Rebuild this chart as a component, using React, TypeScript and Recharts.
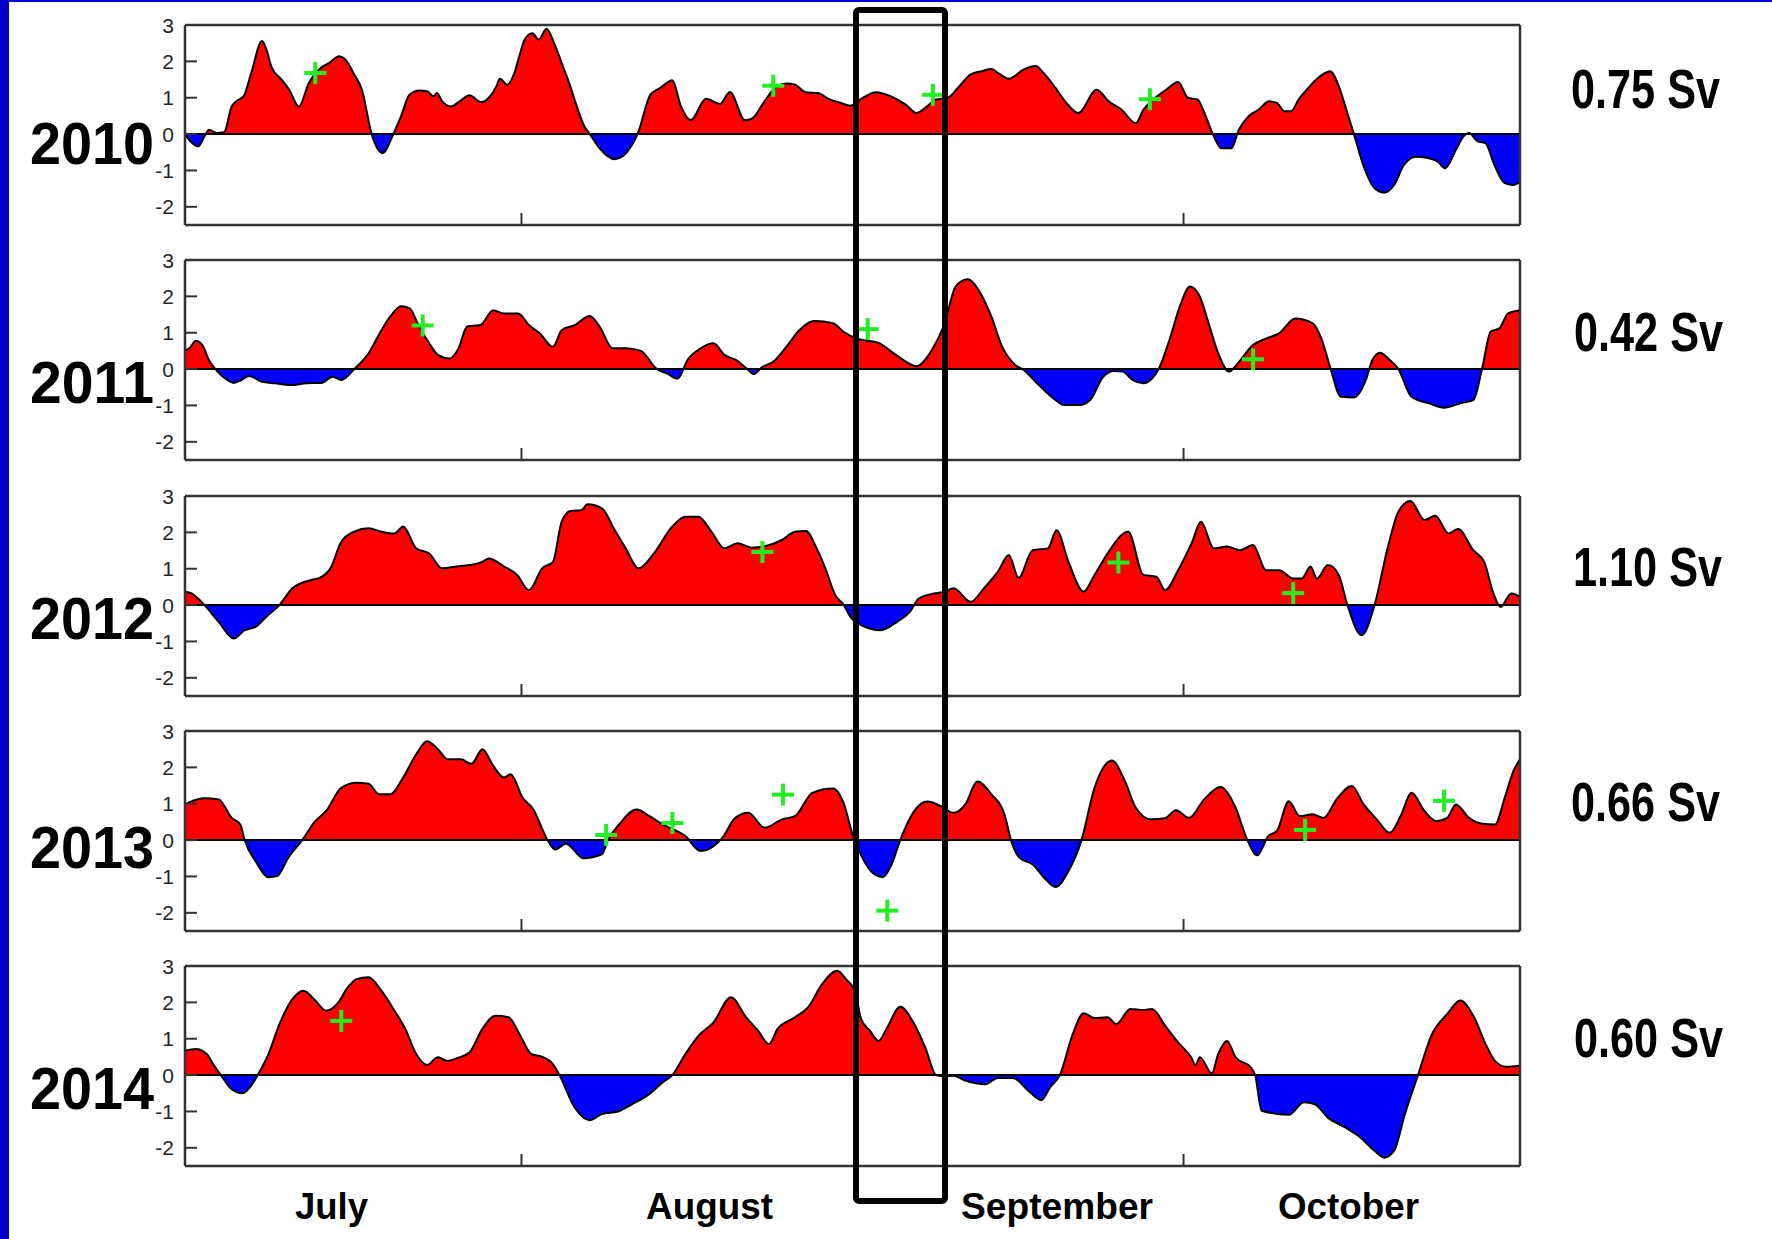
import { ComposedChart, Area, Scatter, XAxis, YAxis, ReferenceLine } from 'recharts';

// x = days since 1 July, y = transport anomaly (Sv)
const DAY_TICKS = [31, 62, 92]; // Aug 1, Sep 1, Oct 1
const Y_TICKS = [-2, -1, 0, 1, 2, 3];
const MONTHS = ['July', 'August', 'September', 'October'];
const YEARS = ['2010', '2011', '2012', '2013', '2014'];
const MEAN_SV = ['0.75 Sv', '0.42 Sv', '1.10 Sv', '0.66 Sv', '0.60 Sv'];

const FLOW_2010: [number, number][] = [
    [0, 0.0], [0.5, -0.2], [1.2, -0.34], [1.9, 0.0], [2.2, 0.12], [2.9, 0.03], [3.6, 0.05], [4.3, 0.76], [4.8, 0.92],
    [5.4, 1.04], [6.1, 1.68], [7.1, 2.56], [7.5, 2.33], [8.0, 1.82], [8.9, 1.5], [9.6, 1.22], [10.5, 0.76], [11.4, 1.4],
    [12.5, 1.82], [13.3, 1.96], [14.2, 2.14], [14.7, 2.07], [15.6, 1.64], [16.3, 1.22], [17.2, 0.0], [18.2, -0.52],
    [19.2, 0.0], [19.9, 0.49], [20.7, 1.09], [21.6, 1.2], [22.3, 1.18], [22.9, 1.04], [23.2, 1.13], [23.7, 0.9],
    [24.5, 0.76], [25.3, 0.9], [26.2, 1.07], [27.3, 0.88], [28.0, 1.0], [28.7, 1.32], [29.0, 1.52], [29.7, 1.36],
    [30.3, 1.64], [30.8, 2.14], [31.3, 2.6], [32.0, 2.77], [32.6, 2.6], [33.3, 2.9], [34.0, 2.51], [34.7, 1.96],
    [35.4, 1.4], [36.1, 0.76], [36.8, 0.21], [37.3, 0.0], [38.2, -0.39], [39.6, -0.69], [41.1, -0.34], [41.7, 0.0],
    [42.9, 1.09], [43.8, 1.27], [44.9, 1.48], [45.7, 0.76], [46.6, 0.38], [48.0, 0.97], [49.3, 0.83], [50.2, 1.16],
    [51.6, 0.38], [52.3, 0.44], [53.3, 0.86], [54.2, 1.22], [55.4, 1.39], [56.2, 1.36], [57.2, 1.15], [58.3, 1.13],
    [59.3, 0.97], [60.4, 0.86], [61.3, 0.78], [62.2, 0.95], [63.7, 1.15], [65.0, 1.04], [66.4, 0.81], [67.4, 0.58],
    [68.2, 0.72], [69.2, 0.95], [70.3, 1.0], [71.3, 1.3], [72.4, 1.64], [73.4, 1.73], [74.3, 1.79], [75.0, 1.66],
    [75.9, 1.52], [77.3, 1.78], [78.4, 1.87], [79.1, 1.68], [80.2, 1.27], [81.2, 0.86], [82.3, 0.58], [84.0, 1.22],
    [85.1, 0.9], [86.3, 0.67], [87.6, 0.3], [88.3, 0.67], [89.2, 0.95], [90.4, 1.22], [91.5, 1.43], [92.4, 1.0],
    [93.3, 0.95], [93.8, 0.67], [94.7, 0.0], [95.5, -0.39], [96.4, -0.39], [97.1, 0.12], [98.0, 0.49], [98.9, 0.67],
    [99.9, 0.9], [100.6, 0.86], [101.3, 0.63], [101.9, 0.63], [102.6, 0.95], [103.5, 1.27], [104.4, 1.55],
    [105.5, 1.73], [106.3, 1.32], [107.0, 0.67], [107.7, 0.0], [108.6, -0.89], [109.6, -1.49], [110.5, -1.61],
    [111.4, -1.4], [112.3, -0.85], [113.4, -0.62], [114.5, -0.66], [115.4, -0.75], [116.1, -0.94], [117.1, -0.43],
    [117.8, -0.06], [118.3, 0.03], [119.1, -0.2], [119.8, -0.25], [120.7, -0.89], [121.6, -1.35], [122.4, -1.4],
    [123.0, -1.31],
];
const PLUS_2010: [number, number][] = [[12.0, 1.68], [54.2, 1.33], [68.9, 1.08], [88.9, 0.96]];

const FLOW_2011: [number, number][] = [
    [0, 0.52], [0.4, 0.57], [1.0, 0.78], [1.6, 0.66], [2.2, 0.25], [2.8, 0.0], [3.7, -0.26], [4.5, -0.38], [5.2, -0.3],
    [5.9, -0.19], [7.1, -0.35], [8.3, -0.39], [9.7, -0.44], [11.2, -0.39], [12.6, -0.38], [13.6, -0.21], [14.4, -0.3],
    [15.6, 0.0], [16.9, 0.43], [18.1, 1.07], [18.9, 1.44], [19.9, 1.73], [20.7, 1.67], [21.5, 1.21], [22.5, 0.71],
    [23.3, 0.39], [24.4, 0.29], [25.2, 0.57], [26.0, 1.17], [27.2, 1.21], [28.4, 1.62], [29.4, 1.53], [30.7, 1.53],
    [31.7, 1.21], [32.7, 0.98], [33.9, 0.61], [34.7, 1.07], [35.9, 1.21], [37.3, 1.46], [38.2, 1.17], [39.4, 0.57],
    [40.6, 0.57], [42.0, 0.5], [43.4, 0.02], [44.4, -0.12], [45.4, -0.26], [46.3, 0.25], [47.5, 0.57], [48.7, 0.71],
    [49.7, 0.39], [50.9, 0.23], [51.8, 0.0], [52.4, -0.14], [53.2, 0.06], [54.2, 0.2], [55.4, 0.61], [56.6, 1.07],
    [58.0, 1.32], [59.7, 1.26], [60.7, 1.02], [61.9, 0.84], [63.9, 0.72], [65.5, 0.39], [67.4, 0.08], [68.8, 0.52],
    [70.0, 1.26], [71.0, 2.27], [72.1, 2.47], [73.3, 2.08], [74.3, 1.44], [75.3, 0.61], [76.5, 0.11], [77.3, -0.03],
    [78.5, -0.39], [80.2, -0.85], [81.0, -0.99], [82.4, -0.99], [83.4, -0.85], [84.6, -0.21], [85.6, -0.05],
    [86.4, -0.07], [87.3, -0.3], [88.3, -0.39], [89.1, -0.26], [89.7, 0.0], [90.7, 0.8], [91.7, 1.76], [92.6, 2.27],
    [93.5, 1.99], [94.4, 1.17], [95.2, 0.43], [96.2, -0.07], [97.0, 0.16], [98.4, 0.66], [99.6, 0.84], [100.8, 0.98],
    [102.3, 1.39], [103.9, 1.26], [104.7, 0.84], [105.5, 0.06], [106.5, -0.76], [107.7, -0.78], [108.8, -0.3],
    [109.4, 0.25], [110.1, 0.45], [111.0, 0.25], [111.8, 0.0], [113.0, -0.76], [114.6, -0.94], [116.0, -1.06],
    [117.5, -0.94], [118.7, -0.85], [119.5, 0.0], [120.3, 1.03], [121.1, 1.12], [121.9, 1.53], [123.0, 1.62],
];
const PLUS_2011: [number, number][] = [[21.9, 1.2], [62.9, 1.1], [98.4, 0.27]];

const FLOW_2012: [number, number][] = [
    [0, 0.37], [0.6, 0.32], [1.2, 0.18], [1.8, 0.0], [3.1, -0.46], [4.5, -0.92], [5.5, -0.69], [6.5, -0.6], [7.5, -0.32],
    [8.7, 0.0], [9.9, 0.46], [11.6, 0.69], [12.4, 0.75], [13.4, 1.01], [14.4, 1.74], [15.6, 2.02], [16.9, 2.11],
    [18.1, 2.02], [19.3, 1.97], [20.1, 2.16], [21.3, 1.56], [22.5, 1.42], [23.7, 1.01], [25.0, 1.06], [26.2, 1.1],
    [27.4, 1.19], [28.0, 1.28], [29.4, 1.06], [30.6, 0.83], [31.7, 0.41], [32.9, 1.01], [33.9, 1.19], [34.7, 2.29],
    [35.5, 2.59], [36.5, 2.61], [37.1, 2.77], [38.4, 2.66], [39.6, 2.06], [40.6, 1.56], [41.8, 1.01], [43.2, 1.42],
    [44.9, 2.16], [46.1, 2.43], [47.3, 2.43], [48.5, 2.02], [49.7, 1.56], [50.9, 1.7], [52.2, 1.58], [53.8, 1.65],
    [55.0, 1.79], [56.2, 2.02], [57.2, 2.04], [58.2, 1.56], [59.0, 1.01], [59.9, 0.28], [60.7, 0.0], [61.3, -0.32],
    [62.3, -0.55], [64.1, -0.69], [65.6, -0.46], [66.8, -0.18], [67.6, 0.18], [69.0, 0.32], [70.0, 0.37], [70.8, 0.46],
    [72.4, 0.09], [73.6, 0.46], [74.9, 0.92], [75.9, 1.38], [76.8, 0.75], [78.1, 1.51], [79.5, 1.56], [80.3, 2.06],
    [81.4, 1.19], [82.8, 0.37], [83.8, 0.83], [85.0, 1.42], [86.9, 2.02], [88.3, 0.83], [89.5, 0.78], [90.3, 0.41],
    [91.5, 0.96], [92.8, 1.74], [93.6, 2.29], [94.8, 1.56], [96.0, 1.61], [97.2, 1.51], [98.4, 1.65], [99.6, 0.96],
    [100.8, 0.96], [102.1, 0.73], [102.9, 0.73], [103.7, 1.06], [104.3, 0.73], [105.3, 1.1], [106.3, 0.83],
    [107.1, 0.0], [108.4, -0.83], [109.6, 0.0], [110.8, 1.56], [111.8, 2.57], [112.9, 2.86], [114.2, 2.34],
    [115.2, 2.46], [116.4, 1.97], [117.3, 2.09], [118.7, 1.51], [119.7, 1.19], [120.5, 0.37], [121.2, -0.05],
    [122.2, 0.32], [123.0, 0.23],
];
const PLUS_2012: [number, number][] = [[53.2, 1.46], [86.0, 1.17], [102.1, 0.33]];

const FLOW_2013: [number, number][] = [
    [0, 0.98], [0.8, 1.09], [1.8, 1.15], [3.1, 1.12], [4.3, 0.61], [5.1, 0.43], [5.5, 0.0], [6.5, -0.58], [7.7, -1.02],
    [8.5, -0.99], [9.5, -0.49], [10.8, 0.0], [12.0, 0.52], [13.0, 0.8], [14.4, 1.44], [15.8, 1.58], [16.9, 1.55],
    [17.9, 1.26], [18.9, 1.26], [20.1, 1.72], [21.3, 2.36], [22.3, 2.72], [23.3, 2.5], [24.2, 2.22], [25.4, 2.22],
    [26.4, 2.1], [27.4, 2.5], [28.4, 2.04], [29.4, 1.72], [30.0, 1.81], [31.1, 1.17], [32.1, 0.84], [33.3, 0.06],
    [34.1, -0.26], [35.1, -0.1], [36.7, -0.5], [38.4, -0.39], [39.0, 0.02], [40.0, 0.43], [41.6, 0.84], [42.8, 0.66],
    [44.0, 0.43], [46.1, 0.11], [47.5, -0.3], [48.7, -0.17], [49.5, 0.06], [50.7, 0.61], [51.9, 0.75], [53.4, 0.34],
    [55.0, 0.57], [56.2, 0.66], [57.8, 1.3], [59.7, 1.42], [60.7, 1.0], [61.5, 0.16], [62.3, -0.42], [63.5, -0.94],
    [64.3, -1.02], [65.1, -0.67], [65.9, 0.0], [66.8, 0.61], [68.4, 1.06], [69.6, 0.94], [70.8, 0.75], [71.9, 0.98],
    [73.0, 1.61], [74.3, 1.26], [75.5, 0.71], [76.1, 0.0], [76.9, -0.49], [78.1, -0.67], [79.3, -1.08], [80.2, -1.29],
    [81.4, -0.85], [82.6, 0.0], [83.8, 1.44], [85.4, 2.19], [86.6, 1.62], [87.6, 0.89], [89.0, 0.57], [90.3, 0.6],
    [91.3, 0.82], [92.5, 0.61], [93.9, 1.12], [95.4, 1.46], [96.8, 0.89], [97.8, 0.06], [98.8, -0.42], [99.8, 0.11],
    [100.6, 0.25], [101.7, 1.07], [102.7, 0.66], [103.9, 0.71], [104.9, 0.61], [106.1, 1.12], [107.5, 1.49],
    [108.6, 0.98], [109.8, 0.57], [111.0, 0.2], [112.0, 0.66], [113.0, 1.3], [114.2, 0.8], [115.3, 0.52],
    [116.3, 0.61], [117.1, 0.98], [118.3, 0.61], [119.5, 0.45], [120.7, 0.43], [121.6, 1.17], [122.4, 1.9],
    [123.0, 2.22],
];
const PLUS_2013: [number, number][] = [[38.8, 0.14], [44.9, 0.47], [55.1, 1.25], [64.7, -1.94], [103.2, 0.28], [116.0, 1.08]];

const FLOW_2014: [number, number][] = [
    [0, 0.67], [1.0, 0.72], [2.0, 0.58], [2.6, 0.3], [3.3, 0.0], [4.3, -0.39], [5.3, -0.5], [6.1, -0.29], [6.7, 0.0],
    [7.7, 0.58], [8.7, 1.4], [9.9, 2.09], [10.9, 2.32], [12.0, 2.05], [13.0, 1.77], [14.0, 1.95], [15.0, 2.41],
    [15.8, 2.64], [16.9, 2.69], [18.1, 2.32], [19.3, 1.77], [20.3, 1.27], [21.3, 0.58], [22.3, 0.28], [23.3, 0.49],
    [24.2, 0.39], [25.0, 0.46], [26.2, 0.62], [27.4, 1.27], [28.6, 1.63], [29.8, 1.59], [30.9, 1.08], [31.9, 0.58],
    [32.9, 0.5], [33.9, 0.3], [34.5, 0.0], [35.9, -0.89], [37.3, -1.24], [38.4, -1.07], [39.9, -1.0], [41.2, -0.8],
    [42.8, -0.52], [44.0, -0.2], [44.9, 0.0], [46.1, 0.58], [47.3, 1.08], [48.7, 1.45], [50.3, 2.14], [51.7, 1.59],
    [52.8, 1.22], [53.8, 0.85], [54.6, 1.27], [56.2, 1.59], [57.4, 1.86], [58.7, 2.5], [60.1, 2.87], [60.9, 2.64],
    [61.7, 2.32], [62.3, 1.54], [63.1, 1.22], [63.9, 0.94], [64.7, 1.31], [65.9, 1.88], [67.1, 1.45], [68.2, 0.76],
    [69.2, 0.0], [69.8, -0.03], [70.8, -0.02], [71.8, -0.14], [73.7, -0.25], [74.9, -0.08], [76.3, -0.08],
    [77.7, -0.43], [78.9, -0.69], [79.7, -0.34], [80.6, 0.0], [81.8, 1.13], [82.8, 1.7], [83.8, 1.57], [85.0, 1.59],
    [85.8, 1.4], [87.1, 1.82], [88.3, 1.79], [89.1, 1.82], [90.3, 1.36], [91.5, 0.9], [92.7, 0.49], [93.1, 0.28],
    [93.5, 0.49], [94.6, 0.05], [95.2, 0.58], [96.0, 0.94], [96.8, 0.49], [98.2, 0.21], [98.6, 0.0], [99.2, -0.98],
    [101.7, -1.09], [103.1, -0.75], [104.1, -0.8], [105.3, -1.17], [106.9, -1.44], [108.1, -1.67], [109.6, -2.08],
    [110.5, -2.27], [111.4, -2.08], [112.4, -1.07], [113.6, 0.0], [114.9, 1.13], [116.3, 1.68], [117.5, 2.05],
    [118.7, 1.63], [119.9, 0.81], [120.7, 0.39], [121.7, 0.23], [123.0, 0.26],
];
const PLUS_2014: [number, number][] = [[14.4, 1.49]];

const FLOWS = [FLOW_2010, FLOW_2011, FLOW_2012, FLOW_2013, FLOW_2014];
const PLUSES = [PLUS_2010, PLUS_2011, PLUS_2012, PLUS_2013, PLUS_2014];

// layout (px)
const PAGE_W = 1772;
const PAGE_H = 1239;
const PANEL_STEP = 235.25;
const CHART_H = 235;
const PLOT_TOP = 25;
const PLOT_H = 200;
const PLOT_LEFT = 185;
const PLOT_RIGHT = 1520;
const TICK_LEN = 12;
const AXIS_COLOR = '#333';
const FONT = '"Liberation Sans", Arial, Helvetica, sans-serif';
const GREEN = '#22ee22';

const YEAR_BASE = [164, 403, 639, 868, 1109];
const SV_X = [1571, 1574, 1573, 1571, 1574];
const SV_BASE = [108, 351, 586, 821, 1057];
const MONTH_X = [295, 646, 961, 1278];
const MONTH_W = [73, 127, 192, 141];

const leftTick = (props: any) => {
    const { x, y, payload } = props;
    return (
        <g>
            <line x1={x} x2={x + TICK_LEN} y1={y} y2={y} stroke={AXIS_COLOR} strokeWidth={2} />
            <text x={x - 11} y={y} dy="0.36em" textAnchor="end" fontSize={21} fontFamily={FONT} fill="#262626">
                {payload.value}
            </text>
        </g>
    );
};
const rightTick = (props: any) => (
    <line x1={props.x} x2={props.x - TICK_LEN} y1={props.y} y2={props.y} stroke={AXIS_COLOR} strokeWidth={2} />
);
const topTick = (props: any) => (
    <line x1={props.x} x2={props.x} y1={props.y} y2={props.y + TICK_LEN} stroke={AXIS_COLOR} strokeWidth={2} />
);
const bottomTick = (props: any) => (
    <line x1={props.x} x2={props.x} y1={props.y} y2={props.y - TICK_LEN} stroke={AXIS_COLOR} strokeWidth={2} />
);

const PlusMark = (props: any) => {
    const { cx, cy } = props;
    if (cx == null || cy == null) return <g />;
    return (
        <g>
            <line x1={cx - 11} x2={cx + 11} y1={cy} y2={cy} stroke={GREEN} strokeWidth={4} />
            <line x1={cx} x2={cx} y1={cy - 11} y2={cy + 11} stroke={GREEN} strokeWidth={4} />
        </g>
    );
};

const YearPanel = ({ index }: { index: number }) => {
    const flow = FLOWS[index].map(([d, v]) => ({ d, v }));
    const plus = PLUSES[index].map(([d, v]) => ({ d, v }));
    const gradId = `split${index}`;
    const zeroOff = 3 / 5.5;
    const axisCommon = { tickLine: false, tickSize: 0, tickMargin: 0, axisLine: { stroke: AXIS_COLOR, strokeWidth: 2.5 } };

    return (
        <div style={{ position: 'absolute', left: 0, top: index * PANEL_STEP, width: PAGE_W, height: CHART_H }}>
            <ComposedChart
                width={PAGE_W}
                height={CHART_H}
                margin={{ top: PLOT_TOP - 1, bottom: CHART_H - PLOT_TOP - PLOT_H - 1, left: 0, right: PAGE_W - PLOT_RIGHT - 1 }}
            >
                <defs>
                    <linearGradient id={gradId} gradientUnits="userSpaceOnUse" x1={0} x2={0} y1={PLOT_TOP} y2={PLOT_TOP + PLOT_H}>
                        <stop offset={0} stopColor="#ff0000" />
                        <stop offset={zeroOff} stopColor="#ff0000" />
                        <stop offset={zeroOff} stopColor="#0000ff" />
                        <stop offset={1} stopColor="#0000ff" />
                    </linearGradient>
                </defs>
                <XAxis dataKey="d" type="number" domain={[0, 123]} ticks={DAY_TICKS} interval={0} height={1} tick={bottomTick} {...axisCommon} />
                <XAxis xAxisId="top" orientation="top" dataKey="d" type="number" domain={[0, 123]} ticks={DAY_TICKS} interval={0} height={1} tick={topTick} {...axisCommon} />
                <YAxis type="number" domain={[-2.5, 3]} ticks={Y_TICKS} interval={0} width={PLOT_LEFT} tick={leftTick} {...axisCommon} />
                <YAxis yAxisId="right" orientation="right" type="number" domain={[-2.5, 3]} ticks={Y_TICKS} interval={0} width={1} tick={rightTick} {...axisCommon} />
                <Area
                    data={flow}
                    dataKey="v"
                    type="monotone"
                    baseValue={0}
                    stroke="#000"
                    strokeWidth={2}
                    fill={`url(#${gradId})`}
                    fillOpacity={1}
                    dot={false}
                    activeDot={false}
                    isAnimationActive={false}
                />
                <ReferenceLine y={0} stroke="#000" strokeWidth={2} />
                <Scatter data={plus} dataKey="v" shape={PlusMark} isAnimationActive={false} />
            </ComposedChart>
        </div>
    );
};

export default function App() {
    return (
        <div style={{ position: 'absolute', left: 0, top: 0, width: PAGE_W, height: PAGE_H, background: '#fff', overflow: 'hidden' }}>
            <style>{'body{margin:0}'}</style>
            {YEARS.map((_, i) => <YearPanel key={i} index={i} />)}
            <svg width={PAGE_W} height={PAGE_H} style={{ position: 'absolute', left: 0, top: 0, pointerEvents: 'none' }}>
                {YEARS.map((y, i) => (
                    <text key={y} x={30} y={YEAR_BASE[i]} fontSize={60} fontWeight={700} fontFamily={FONT} fill="#000"
                        textLength={124} lengthAdjust="spacingAndGlyphs">{y}</text>
                ))}
                {MEAN_SV.map((s, i) => (
                    <text key={s} x={SV_X[i]} y={SV_BASE[i]} fontSize={55} fontWeight={700} fontFamily={FONT} fill="#000"
                        textLength={149} lengthAdjust="spacingAndGlyphs">{s}</text>
                ))}
                {MONTHS.map((m, i) => (
                    <text key={m} x={MONTH_X[i]} y={1219} fontSize={37} fontWeight={700} fontFamily={FONT} fill="#000"
                        textLength={MONTH_W[i]} lengthAdjust="spacingAndGlyphs">{m}</text>
                ))}
                <rect x={856} y={10} width={89} height={1191} rx={3} fill="none" stroke="#000" strokeWidth={6} />
            </svg>
            <div style={{ position: 'absolute', left: 0, top: 0, width: 9, height: PAGE_H, background: '#0000cc' }} />
            <div style={{ position: 'absolute', left: 0, top: 0, width: PAGE_W, height: 2, background: '#0000cc' }} />
        </div>
    );
}
